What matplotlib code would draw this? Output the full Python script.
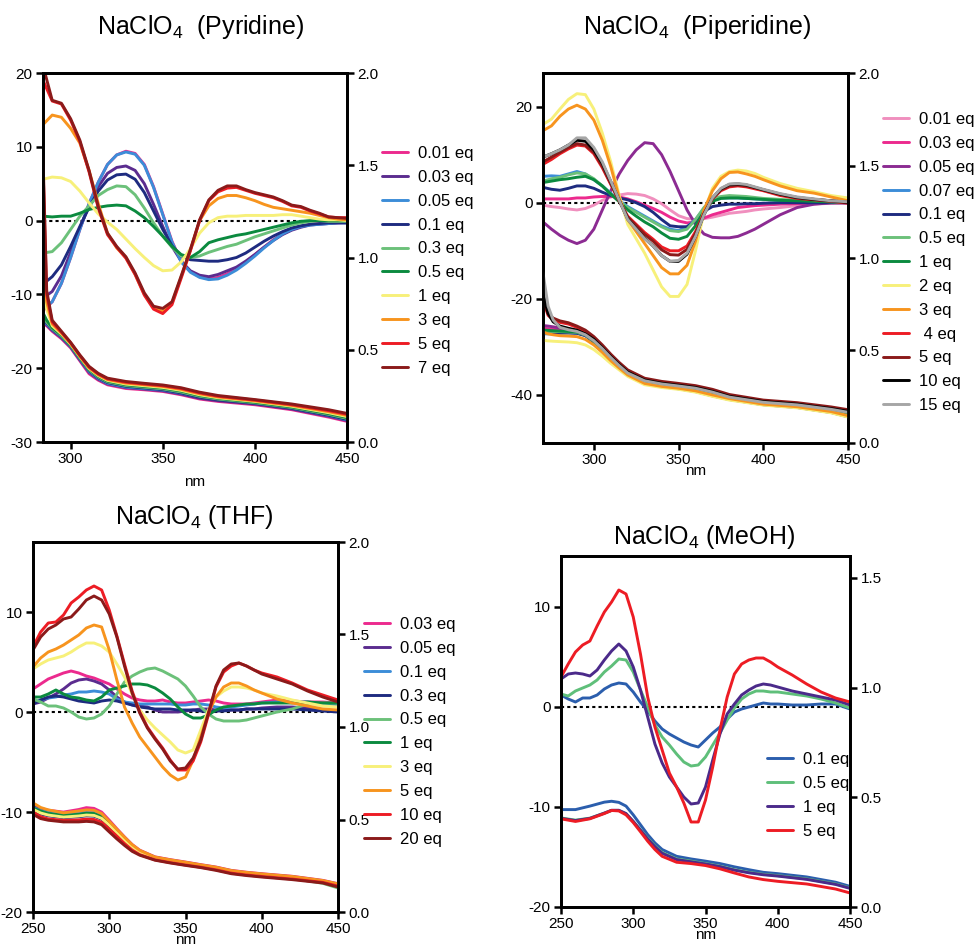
import matplotlib.pyplot as plt

plt.rcParams['font.family'] = ['Liberation Sans', 'DejaVu Sans']
plt.rcParams['mathtext.default'] = 'regular'
plt.rcParams['axes.unicode_minus'] = False

PINK = '#ec2a8e'
LPINK = '#f08fbe'
PURPLE = '#5b2c8f'
MAGENTA = '#8c2b92'
LBLUE = '#3c8dd8'
NAVY = '#1e2b80'
LGREEN = '#6cc17a'
GREEN = '#0b8a3f'
YELLOW = '#f7f07a'
ORANGE = '#f7941e'
RED = '#ed1c24'
DRED = '#8b1a1a'

# ---------------- NaClO4 in pyridine ----------------
pyr_labels = ['0.01 eq', '0.03 eq', '0.05 eq', '0.1 eq', '0.3 eq', '0.5 eq', '1 eq', '3 eq', '5 eq', '7 eq']
pyr_colors = [PINK, PURPLE, LBLUE, NAVY, LGREEN, GREEN, YELLOW, ORANGE, RED, DRED]
pyr_cd_wl = [285, 290, 295, 300, 305, 310, 315, 320, 325, 330, 335, 340, 345, 350, 355, 360, 365,
             370, 375, 380, 385, 390, 395, 400, 405, 410, 415, 420, 425, 430, 435, 440, 445, 450]
pyr_cd = [
    [-12.2, -11.0, -8.5, -5.0, -1.2, 2.3, 5.2, 7.6, 8.9, 9.4, 9.1, 7.6, 4.6, 0.9, -2.8, -5.5, -6.9,
     -7.6, -7.9, -7.7, -7.2, -6.5, -5.6, -4.6, -3.6, -2.6, -1.8, -1.2, -0.8, -0.5, -0.4, -0.3, -0.3, -0.2],
    [-10.5, -9.6, -7.5, -4.3, -1.0, 2.0, 4.6, 6.4, 7.2, 7.4, 6.8, 5.0, 2.2, -0.8, -3.5, -5.5, -6.8,
     -7.4, -7.6, -7.3, -6.8, -6.3, -5.5, -4.6, -3.6, -2.7, -1.9, -1.3, -0.9, -0.6, -0.5, -0.4, -0.3, -0.3],
    [-12.0, -11.0, -8.5, -5.0, -1.2, 2.3, 5.2, 7.6, 8.9, 9.3, 9.0, 7.5, 4.5, 0.8, -2.9, -5.6, -7.0,
     -7.7, -8.0, -7.9, -7.4, -6.7, -5.8, -4.8, -3.7, -2.7, -1.8, -1.2, -0.8, -0.6, -0.5, -0.4, -0.3, -0.3],
    [-8.6, -7.6, -6.0, -3.5, -0.8, 1.8, 4.0, 5.5, 6.2, 6.3, 5.6, 3.8, 1.3, -1.2, -3.4, -4.8, -5.3,
     -5.4, -5.5, -5.5, -5.3, -5.0, -4.4, -3.6, -2.8, -2.1, -1.5, -1.0, -0.7, -0.5, -0.4, -0.3, -0.3, -0.3],
    [-4.4, -4.2, -3.0, -1.2, 0.6, 2.0, 3.4, 4.2, 4.7, 4.6, 3.5, 1.7, -0.3, -2.1, -3.6, -4.8, -5.0,
     -4.8, -4.3, -3.9, -3.5, -3.2, -2.7, -2.2, -1.8, -1.4, -1.0, -0.6, -0.3, -0.1, 0.0, -0.1, -0.1, -0.1],
    [0.6, 0.5, 0.6, 0.6, 1.0, 1.5, 1.8, 2.0, 2.1, 2.0, 1.3, 0.4, -0.8, -2.1, -3.5, -4.6, -5.0,
     -4.2, -3.0, -2.6, -2.3, -2.0, -1.8, -1.5, -1.2, -0.9, -0.6, -0.3, -0.1, 0.0, 0.0, 0.0, 0.0, 0.0],
    [5.6, 5.9, 5.8, 5.3, 4.0, 2.4, 0.9, -0.2, -1.2, -2.5, -3.8, -5.0, -6.1, -6.8, -6.7, -5.6, -3.8,
     -1.7, -0.3, 0.4, 0.6, 0.6, 0.7, 0.7, 0.7, 0.7, 0.8, 0.8, 0.6, 0.4, 0.2, 0.1, 0.1, 0.0],
    [13.0, 14.3, 14.0, 12.5, 10.5, 6.8, 2.3, -1.7, -3.7, -5.0, -7.3, -10.0, -11.8, -12.3, -11.2, -7.6, -4.0,
     0.0, 2.0, 3.0, 3.4, 3.4, 3.1, 2.7, 2.2, 1.8, 1.6, 1.4, 1.2, 1.0, 0.7, 0.4, 0.2, 0.1],
    [19.0, 16.2, 15.8, 13.6, 10.7, 6.6, 1.7, -1.9, -3.6, -5.1, -7.3, -10.1, -12.0, -12.6, -11.4, -7.8, -4.1,
     0.0, 2.7, 3.9, 4.4, 4.5, 4.1, 3.7, 3.4, 3.1, 2.6, 2.0, 1.8, 1.3, 0.9, 0.5, 0.4, 0.4],
    [21.0, 16.3, 15.9, 13.8, 10.9, 6.8, 1.9, -1.7, -3.5, -4.9, -7.1, -9.8, -11.6, -11.9, -11.0, -7.5, -3.9,
     0.1, 2.8, 4.1, 4.7, 4.7, 4.2, 3.8, 3.5, 3.2, 2.7, 2.1, 1.9, 1.4, 1.0, 0.5, 0.4, 0.3],
]
pyr_abs_wl = [285, 287, 290, 295, 300, 305, 310, 315, 320, 330, 340, 350, 360, 370, 380, 400, 420, 440, 450]
pyr_abs = [
    [0.64, 0.63, 0.60, 0.56, 0.51, 0.44, 0.37, 0.335, 0.31, 0.29, 0.283, 0.274, 0.256, 0.233, 0.220, 0.202, 0.175, 0.135, 0.112],
    [0.65, 0.635, 0.605, 0.565, 0.515, 0.445, 0.378, 0.34, 0.315, 0.295, 0.287, 0.278, 0.26, 0.237, 0.224, 0.206, 0.179, 0.14, 0.117],
    [0.66, 0.64, 0.61, 0.57, 0.518, 0.45, 0.382, 0.345, 0.318, 0.298, 0.29, 0.282, 0.265, 0.245, 0.232, 0.212, 0.184, 0.144, 0.12],
    [0.67, 0.645, 0.612, 0.572, 0.52, 0.452, 0.386, 0.348, 0.322, 0.302, 0.293, 0.284, 0.266, 0.243, 0.229, 0.21, 0.183, 0.145, 0.123],
    [0.68, 0.65, 0.615, 0.575, 0.523, 0.455, 0.39, 0.352, 0.326, 0.306, 0.297, 0.288, 0.271, 0.248, 0.233, 0.213, 0.187, 0.15, 0.128],
    [0.70, 0.66, 0.62, 0.58, 0.526, 0.458, 0.394, 0.356, 0.33, 0.31, 0.301, 0.292, 0.276, 0.252, 0.237, 0.216, 0.19, 0.154, 0.133],
    [0.85, 0.72, 0.63, 0.585, 0.53, 0.462, 0.398, 0.36, 0.334, 0.314, 0.305, 0.296, 0.28, 0.256, 0.24, 0.22, 0.194, 0.159, 0.138],
    [1.00, 0.76, 0.64, 0.59, 0.534, 0.465, 0.402, 0.364, 0.338, 0.319, 0.31, 0.301, 0.285, 0.261, 0.244, 0.223, 0.198, 0.164, 0.144],
    [1.50, 0.80, 0.65, 0.595, 0.537, 0.468, 0.406, 0.368, 0.342, 0.324, 0.314, 0.305, 0.29, 0.266, 0.248, 0.227, 0.202, 0.17, 0.15],
    [1.55, 0.82, 0.66, 0.60, 0.54, 0.472, 0.41, 0.372, 0.346, 0.328, 0.318, 0.309, 0.294, 0.27, 0.252, 0.23, 0.206, 0.175, 0.155],
]

# ---------------- NaClO4 in piperidine ----------------
pip_labels = ['0.01 eq', '0.03 eq', '0.05 eq', '0.07 eq', '0.1 eq', '0.5 eq', '1 eq', '2 eq', '3 eq',
              ' 4 eq', '5 eq', '10 eq', '15 eq']
pip_colors = [LPINK, PINK, MAGENTA, LBLUE, NAVY, LGREEN, GREEN, YELLOW, ORANGE, RED, DRED, '#000000', '#a6a6a6']
pip_cd_wl = [270, 275, 280, 285, 290, 295, 300, 305, 310, 315, 320, 325, 330, 335, 340, 345, 350, 355,
             360, 365, 370, 375, 380, 385, 390, 395, 400, 410, 420, 430, 440, 450]
pip_cd = [
    [-0.5, -0.8, -1.0, -1.3, -1.5, -1.2, -0.5, 0.5, 1.2, 1.6, 1.9, 1.8, 1.5, 0.8, -0.2, -1.5, -2.7, -3.3,
     -3.5, -3.3, -3.0, -2.6, -2.2, -2.0, -1.8, -1.5, -1.3, -1.0, -0.6, -0.3, -0.1, 0.0],
    [0.8, 0.8, 0.8, 0.8, 1.0, 1.0, 1.2, 1.3, 1.3, 1.2, 0.8, 0.2, -0.5, -1.2, -2.0, -3.0, -3.8, -4.2,
     -4.0, -3.2, -2.5, -2.0, -1.5, -1.0, -0.8, -0.6, -0.5, -0.3, -0.2, -0.1, 0.0, 0.0],
    [-4.0, -5.5, -6.8, -7.8, -8.5, -7.8, -5.5, -1.5, 2.5, 6.0, 8.8, 11.0, 12.5, 12.3, 10.0, 6.5, 2.5, -1.5,
     -4.5, -6.5, -7.2, -7.3, -7.3, -7.0, -6.3, -5.5, -4.5, -2.5, -1.0, -0.3, 0.0, 0.0],
    [5.5, 5.6, 5.5, 6.0, 6.5, 6.0, 4.8, 3.5, 2.0, 0.5, -0.8, -1.8, -2.8, -3.8, -4.8, -5.5, -5.8, -5.0,
     -3.5, -1.2, 0.5, 1.0, 1.0, 1.0, 0.9, 0.8, 0.7, 0.5, 0.4, 0.3, 0.2, 0.1],
    [3.2, 2.8, 2.6, 3.0, 3.5, 3.5, 3.0, 2.2, 1.5, 1.0, 0.6, 0.0, -0.8, -2.0, -3.5, -4.8, -5.0, -5.0,
     -3.8, -1.8, -0.8, -0.5, -0.3, -0.3, -0.2, -0.2, -0.1, 0.0, 0.0, 0.0, 0.0, 0.0],
    [4.5, 5.0, 5.3, 5.8, 6.2, 6.0, 5.0, 3.5, 1.8, 0.3, -1.0, -2.0, -3.0, -4.0, -5.0, -5.8, -6.0, -5.5,
     -3.5, -1.0, 0.8, 1.3, 1.5, 1.4, 1.3, 1.1, 0.9, 0.7, 0.5, 0.4, 0.2, 0.1],
    [4.2, 4.5, 4.8, 5.0, 5.3, 5.5, 4.8, 3.5, 1.8, 0.2, -1.5, -2.8, -4.0, -5.0, -6.3, -7.4, -7.6, -7.0,
     -4.8, -1.8, 0.3, 0.9, 1.0, 1.0, 0.9, 0.8, 0.7, 0.5, 0.4, 0.3, 0.2, 0.1],
    [16.3, 17.4, 19.5, 21.5, 22.7, 22.5, 19.5, 14.5, 8.5, 1.5, -4.5, -7.5, -10.5, -14.0, -17.5, -19.5, -19.5, -17.0,
     -10.0, -2.0, 3.0, 5.5, 6.5, 6.8, 6.6, 6.1, 5.3, 4.0, 3.0, 2.3, 1.5, 1.0],
    [15.0, 16.0, 18.0, 19.5, 20.3, 19.5, 17.2, 13.0, 7.5, 1.0, -3.5, -6.0, -8.5, -11.0, -13.5, -14.8, -14.8, -13.0,
     -8.0, -1.5, 2.5, 5.0, 6.3, 6.4, 6.0, 5.5, 4.8, 3.5, 2.5, 2.0, 1.2, 0.4],
    [8.0, 9.0, 10.2, 11.2, 12.0, 11.8, 10.2, 7.3, 3.8, 0.3, -2.8, -4.5, -6.2, -7.6, -9.2, -10.0, -10.0, -9.0,
     -6.0, -2.2, 0.8, 2.5, 3.3, 3.5, 3.3, 2.9, 2.5, 1.5, 0.9, 0.6, 0.3, -0.1],
    [8.5, 9.5, 10.5, 11.5, 12.3, 12.0, 10.5, 7.6, 4.0, 0.4, -3.0, -4.8, -6.6, -8.0, -9.8, -10.8, -10.9, -9.7,
     -6.4, -2.3, 0.9, 2.7, 3.5, 3.7, 3.5, 3.1, 2.7, 1.7, 1.0, 0.7, 0.4, 0.0],
    [9.5, 10.2, 11.0, 12.0, 13.0, 12.8, 11.0, 8.2, 4.4, 0.5, -3.4, -5.4, -7.4, -9.0, -11.0, -12.2, -12.2, -10.7,
     -7.0, -2.5, 1.0, 2.9, 3.8, 3.9, 3.7, 3.2, 2.7, 1.8, 1.1, 0.7, 0.4, 0.1],
    [9.5, 10.2, 11.0, 12.0, 13.5, 13.5, 11.5, 8.5, 4.5, 0.5, -3.5, -5.5, -7.5, -9.0, -11.0, -12.2, -12.0, -10.5,
     -7.0, -2.5, 1.0, 3.0, 3.9, 4.0, 3.8, 3.3, 2.8, 1.9, 1.2, 0.8, 0.4, 0.2],
]
pip_abs_wl = [270, 273, 276, 280, 285, 290, 295, 300, 305, 310, 315, 320, 330, 340, 350, 360, 370, 380,
              400, 420, 440, 450]
pip_abs = [
    [0.615, 0.613, 0.61, 0.608, 0.605, 0.60, 0.585, 0.55, 0.505, 0.455, 0.415, 0.375, 0.328, 0.312, 0.302, 0.288, 0.265, 0.245, 0.215, 0.2, 0.174, 0.152],
    [0.62, 0.618, 0.615, 0.612, 0.608, 0.603, 0.588, 0.553, 0.507, 0.457, 0.417, 0.377, 0.33, 0.314, 0.304, 0.29, 0.267, 0.247, 0.217, 0.202, 0.176, 0.154],
    [0.635, 0.632, 0.628, 0.622, 0.615, 0.607, 0.59, 0.555, 0.508, 0.458, 0.418, 0.378, 0.331, 0.315, 0.305, 0.291, 0.268, 0.248, 0.218, 0.203, 0.177, 0.155],
    [0.59, 0.59, 0.59, 0.592, 0.595, 0.594, 0.582, 0.548, 0.503, 0.453, 0.413, 0.373, 0.326, 0.31, 0.3, 0.286, 0.263, 0.243, 0.213, 0.198, 0.172, 0.15],
    [0.60, 0.598, 0.597, 0.596, 0.595, 0.593, 0.58, 0.545, 0.498, 0.448, 0.408, 0.368, 0.32, 0.304, 0.293, 0.278, 0.255, 0.235, 0.207, 0.192, 0.165, 0.142],
    [0.605, 0.604, 0.603, 0.602, 0.60, 0.598, 0.584, 0.55, 0.505, 0.455, 0.415, 0.375, 0.328, 0.312, 0.302, 0.288, 0.265, 0.245, 0.215, 0.2, 0.174, 0.152],
    [0.61, 0.609, 0.607, 0.605, 0.603, 0.60, 0.586, 0.552, 0.506, 0.456, 0.416, 0.376, 0.329, 0.313, 0.303, 0.289, 0.266, 0.246, 0.216, 0.201, 0.175, 0.153],
    [0.555, 0.552, 0.55, 0.548, 0.546, 0.542, 0.53, 0.505, 0.47, 0.43, 0.395, 0.36, 0.315, 0.30, 0.29, 0.275, 0.252, 0.232, 0.205, 0.19, 0.163, 0.14],
    [0.60, 0.59, 0.585, 0.58, 0.578, 0.575, 0.56, 0.53, 0.49, 0.445, 0.405, 0.368, 0.322, 0.306, 0.296, 0.282, 0.26, 0.24, 0.21, 0.196, 0.17, 0.148],
    [0.77, 0.69, 0.665, 0.652, 0.643, 0.625, 0.603, 0.568, 0.523, 0.473, 0.428, 0.388, 0.343, 0.326, 0.315, 0.303, 0.283, 0.256, 0.227, 0.213, 0.19, 0.175],
    [0.775, 0.70, 0.675, 0.66, 0.65, 0.632, 0.61, 0.575, 0.53, 0.48, 0.435, 0.395, 0.35, 0.333, 0.322, 0.31, 0.29, 0.262, 0.232, 0.218, 0.195, 0.18],
    [0.81, 0.70, 0.655, 0.632, 0.62, 0.61, 0.59, 0.56, 0.515, 0.467, 0.423, 0.383, 0.34, 0.323, 0.312, 0.30, 0.279, 0.252, 0.224, 0.21, 0.186, 0.171],
    [0.92, 0.74, 0.665, 0.625, 0.612, 0.603, 0.585, 0.553, 0.51, 0.462, 0.418, 0.378, 0.336, 0.319, 0.308, 0.296, 0.275, 0.248, 0.22, 0.206, 0.182, 0.166],
]

# ---------------- NaClO4 in THF ----------------
thf_labels = ['0.03 eq', '0.05 eq', '0.1 eq', '0.3 eq', '0.5 eq', '1 eq', '3 eq', '5 eq', '10 eq', '20 eq']
thf_colors = [PINK, PURPLE, LBLUE, NAVY, LGREEN, GREEN, YELLOW, ORANGE, RED, DRED]
thf_cd_wl = [250, 255, 260, 265, 270, 275, 280, 285, 290, 295, 300, 305, 310, 315, 320, 325, 330, 335,
             340, 345, 350, 355, 360, 365, 370, 375, 380, 385, 390, 395, 400, 410, 420, 430, 440, 450]
thf_cd = [
    [2.3, 2.8, 3.3, 3.6, 3.9, 4.1, 3.9, 3.6, 3.4, 3.1, 2.8, 2.3, 1.8, 1.4, 1.2, 1.1, 1.1, 1.2,
     1.0, 0.9, 0.9, 1.0, 1.1, 1.2, 1.1, 0.9, 0.8, 0.8, 0.8, 0.9, 1.0, 1.2, 1.1, 1.0, 1.0, 0.9],
    [0.8, 1.0, 1.4, 1.8, 2.3, 2.9, 3.2, 3.3, 3.1, 2.8, 2.2, 1.5, 1.0, 0.7, 0.6, 0.5, 0.2, 0.0,
     0.0, 0.0, 0.1, 0.2, 0.3, 0.3, 0.2, 0.2, 0.2, 0.2, 0.3, 0.3, 0.4, 0.5, 0.5, 0.4, 0.2, 0.1],
    [1.0, 1.2, 1.4, 1.5, 1.7, 1.8, 2.0, 2.0, 2.1, 2.0, 1.8, 1.3, 1.0, 0.9, 0.8, 0.8, 0.8, 0.8,
     0.8, 0.7, 0.7, 0.8, 0.8, 0.7, 0.5, 0.4, 0.5, 0.6, 0.7, 0.8, 0.9, 1.0, 1.0, 1.0, 0.8, 0.6],
    [0.8, 1.2, 1.5, 1.6, 1.5, 1.3, 1.1, 1.0, 0.9, 1.1, 1.2, 1.1, 0.9, 0.7, 0.5, 0.4, 0.3, 0.3,
     0.3, 0.2, 0.2, 0.2, 0.1, 0.0, 0.1, 0.1, 0.2, 0.2, 0.3, 0.3, 0.3, 0.3, 0.3, 0.2, 0.1, 0.0],
    [1.3, 1.0, 0.6, 0.6, 0.4, 0.0, -0.5, -0.7, -0.6, -0.2, 0.6, 1.8, 3.0, 3.6, 4.0, 4.3, 4.4, 4.1,
     3.7, 3.3, 2.6, 1.6, 0.5, -0.2, -0.7, -0.9, -0.9, -0.9, -0.8, -0.6, -0.4, 0.0, 0.3, 0.8, 0.9, 0.9],
    [1.5, 1.5, 1.8, 2.2, 1.8, 1.5, 1.4, 1.2, 1.1, 1.5, 2.2, 2.4, 2.6, 2.8, 2.8, 2.7, 2.4, 1.9,
     1.3, 0.5, -0.2, -0.6, -0.6, -0.3, 0.2, 0.5, 0.6, 0.7, 0.8, 0.8, 0.9, 0.9, 0.9, 1.0, 0.9, 0.9],
    [4.3, 4.8, 5.2, 5.4, 5.6, 6.0, 6.5, 6.9, 6.9, 6.6, 6.0, 4.8, 3.5, 1.8, 0.2, -0.8, -1.6, -2.3,
     -3.0, -3.8, -4.1, -3.8, -1.8, 0.2, 1.5, 2.1, 2.5, 2.5, 2.4, 2.2, 1.9, 1.6, 1.2, 0.9, 0.6, 0.5],
    [4.5, 5.4, 6.0, 6.3, 6.7, 7.2, 7.7, 8.4, 8.7, 8.5, 6.2, 3.2, 0.5, -1.1, -2.5, -3.5, -4.5, -5.5,
     -6.3, -6.8, -6.5, -4.8, -2.5, -0.1, 1.5, 2.5, 2.9, 2.9, 2.6, 2.2, 1.9, 1.3, 0.9, 0.6, 0.3, 0.2],
    [6.5, 8.0, 8.9, 9.0, 9.7, 10.9, 11.5, 12.2, 12.6, 12.2, 10.2, 7.6, 4.8, 2.1, 0.0, -1.5, -2.6, -3.6,
     -4.8, -5.8, -5.8, -4.9, -3.0, -0.3, 2.5, 4.0, 4.6, 4.9, 4.6, 4.2, 3.9, 3.5, 2.9, 2.2, 1.7, 1.2],
    [6.2, 7.5, 8.3, 8.7, 9.3, 9.5, 10.3, 11.2, 11.6, 11.2, 9.8, 7.5, 4.6, 1.9, -0.1, -1.6, -2.7, -3.7,
     -4.9, -5.7, -5.6, -4.6, -2.8, -0.1, 2.6, 4.2, 4.8, 4.9, 4.6, 4.2, 3.8, 3.3, 2.8, 2.1, 1.5, 1.0],
]
thf_abs_wl = [250, 255, 260, 270, 280, 285, 290, 295, 300, 305, 310, 315, 320, 330, 340, 350, 360, 370,
              380, 390, 400, 420, 440, 450]
thf_abs = [
    [0.577, 0.56, 0.55, 0.54, 0.554, 0.564, 0.56, 0.54, 0.496, 0.45, 0.406, 0.365, 0.334, 0.298, 0.283, 0.27, 0.256, 0.243, 0.225, 0.215, 0.207, 0.193, 0.171, 0.153],
    [0.57, 0.552, 0.542, 0.532, 0.54, 0.548, 0.546, 0.528, 0.488, 0.443, 0.40, 0.36, 0.33, 0.295, 0.28, 0.267, 0.253, 0.24, 0.222, 0.212, 0.204, 0.19, 0.168, 0.15],
    [0.565, 0.548, 0.538, 0.528, 0.534, 0.54, 0.538, 0.522, 0.483, 0.44, 0.397, 0.357, 0.328, 0.293, 0.278, 0.265, 0.251, 0.238, 0.22, 0.21, 0.202, 0.188, 0.166, 0.148],
    [0.55, 0.53, 0.52, 0.51, 0.515, 0.52, 0.518, 0.502, 0.466, 0.425, 0.385, 0.348, 0.32, 0.288, 0.273, 0.26, 0.247, 0.234, 0.216, 0.206, 0.198, 0.184, 0.162, 0.144],
    [0.56, 0.54, 0.528, 0.518, 0.525, 0.53, 0.528, 0.512, 0.475, 0.432, 0.39, 0.352, 0.324, 0.289, 0.274, 0.261, 0.248, 0.235, 0.216, 0.205, 0.197, 0.182, 0.155, 0.13],
    [0.562, 0.545, 0.533, 0.522, 0.528, 0.534, 0.532, 0.516, 0.478, 0.435, 0.393, 0.355, 0.326, 0.291, 0.276, 0.263, 0.249, 0.236, 0.218, 0.208, 0.2, 0.186, 0.164, 0.145],
    [0.555, 0.535, 0.524, 0.513, 0.519, 0.524, 0.522, 0.506, 0.47, 0.428, 0.388, 0.35, 0.322, 0.29, 0.275, 0.262, 0.249, 0.236, 0.218, 0.208, 0.2, 0.186, 0.164, 0.147],
    [0.59, 0.565, 0.552, 0.536, 0.546, 0.552, 0.55, 0.532, 0.49, 0.447, 0.404, 0.364, 0.333, 0.297, 0.282, 0.269, 0.255, 0.242, 0.224, 0.214, 0.206, 0.192, 0.17, 0.152],
    [0.54, 0.515, 0.503, 0.495, 0.498, 0.502, 0.50, 0.485, 0.448, 0.41, 0.37, 0.335, 0.31, 0.282, 0.267, 0.254, 0.242, 0.228, 0.21, 0.2, 0.192, 0.178, 0.16, 0.14],
    [0.528, 0.505, 0.496, 0.487, 0.487, 0.49, 0.487, 0.472, 0.433, 0.395, 0.36, 0.328, 0.307, 0.28, 0.265, 0.252, 0.24, 0.225, 0.207, 0.197, 0.189, 0.175, 0.157, 0.135],
]

# ---------------- NaClO4 in MeOH ----------------
meoh_labels = ['0.1 eq', '0.5 eq', '1 eq', '5 eq']
meoh_colors = ['#2b5ead', '#5fbf7a', '#4b2a8a', RED]
meoh_cd_wl = thf_cd_wl
meoh_cd = [
    [1.2, 0.8, 0.5, 0.9, 0.9, 1.2, 1.8, 2.2, 2.4, 2.3, 1.5, 0.5, -0.4, -1.4, -2.2, -2.7, -3.1, -3.5,
     -3.8, -4.0, -3.3, -2.6, -2.0, -1.2, -0.5, -0.2, 0.0, 0.2, 0.4, 0.3, 0.3, 0.2, 0.2, 0.3, 0.3, -0.2],
    [1.3, 1.1, 1.6, 1.9, 2.2, 2.7, 3.5, 4.1, 4.8, 4.7, 3.5, 1.7, 0.0, -1.8, -3.0, -3.8, -4.7, -5.5,
     -5.9, -5.8, -5.0, -3.8, -2.6, -1.3, -0.1, 0.8, 1.3, 1.6, 1.6, 1.5, 1.5, 1.3, 1.1, 0.8, 0.4, -0.1],
    [2.8, 3.3, 3.4, 3.3, 3.1, 3.7, 4.7, 5.6, 6.3, 5.6, 4.0, 1.7, -1.0, -3.7, -5.6, -7.0, -8.0, -9.0,
     -9.7, -9.6, -8.0, -5.3, -2.7, -0.7, 0.3, 1.2, 1.7, 2.1, 2.3, 2.2, 2.0, 1.6, 1.3, 1.0, 0.7, 0.2],
    [3.0, 4.3, 5.5, 6.2, 6.6, 8.1, 9.5, 10.5, 11.7, 11.3, 9.0, 5.3, 1.0, -2.0, -4.3, -6.6, -8.0, -9.6,
     -11.5, -11.5, -9.3, -6.0, -2.3, 1.0, 3.3, 4.3, 4.7, 4.9, 4.9, 4.5, 4.0, 3.2, 2.3, 1.5, 0.9, 0.5],
]
meoh_abs_wl = [250, 260, 270, 280, 285, 290, 295, 300, 305, 310, 315, 320, 330, 340, 350, 360, 370,
               380, 390, 400, 420, 440, 450]
meoh_abs = [
    [0.444, 0.444, 0.46, 0.478, 0.482, 0.477, 0.46, 0.42, 0.375, 0.33, 0.292, 0.262, 0.231, 0.219, 0.209, 0.198, 0.183, 0.17, 0.158, 0.152, 0.137, 0.113, 0.094],
    [0.406, 0.396, 0.405, 0.428, 0.44, 0.44, 0.425, 0.39, 0.352, 0.313, 0.278, 0.248, 0.219, 0.209, 0.198, 0.186, 0.17, 0.158, 0.149, 0.143, 0.128, 0.105, 0.087],
    [0.404, 0.394, 0.404, 0.428, 0.441, 0.441, 0.426, 0.39, 0.35, 0.31, 0.275, 0.245, 0.216, 0.206, 0.196, 0.184, 0.168, 0.156, 0.147, 0.141, 0.126, 0.103, 0.085],
    [0.402, 0.39, 0.402, 0.426, 0.44, 0.438, 0.42, 0.385, 0.343, 0.30, 0.262, 0.231, 0.204, 0.198, 0.189, 0.174, 0.155, 0.137, 0.125, 0.117, 0.105, 0.082, 0.064],
]

W, H = 975, 947
fig = plt.figure(figsize=(W / 100, H / 100), dpi=100)


def px_rect(left, top, right, bottom):
    return [left / W, 1 - bottom / H, (right - left) / W, (bottom - top) / H]


def draw_panel(rect, title, title_xy, cd_wl, cd, abs_wl, absb, labels, colors,
               xlim, xticks, ylim, yticks, abs_lim, abs_ticks, legend_xy, nm_pad):
    ax = fig.add_axes(rect)
    ax2 = ax.twinx()
    handles = []
    for ys, c in zip(cd, colors):
        h, = ax.plot(cd_wl, ys, color=c, lw=2.1, solid_capstyle='round', solid_joinstyle='round')
        handles.append(h)
    for ys, c in zip(absb, colors):
        ax2.plot(abs_wl, ys, color=c, lw=2.1, solid_capstyle='round', solid_joinstyle='round')
    ax.axhline(0, color='black', lw=1.5, ls=(0, (1.5, 1.5)), zorder=0.5)

    ax.set_xlim(*xlim)
    ax.set_ylim(*ylim)
    ax.set_xticks(xticks)
    ax.set_yticks(yticks)
    ax2.set_ylim(*abs_lim)
    ax2.set_yticks(abs_ticks)
    ax2.set_yticklabels([f'{t:.1f}' for t in abs_ticks])
    for a in (ax, ax2):
        for sp in a.spines.values():
            sp.set_linewidth(2.0)
        a.tick_params(direction='out', length=5, width=1.8, labelsize=11, pad=2.5)
    ax.set_xlabel('nm', fontsize=11, labelpad=nm_pad)

    fig.text(title_xy[0] / W, 1 - title_xy[1] / H, title, fontsize=18, ha='center', va='center')
    fig.legend(handles, labels, loc='upper left',
               bbox_to_anchor=(legend_xy[0] / W, 1 - legend_xy[1] / H),
               frameon=False, fontsize=12, handlelength=1.55, handletextpad=0.6,
               labelspacing=0.53, borderaxespad=0, borderpad=0)
    return ax


draw_panel(px_rect(43, 73, 347, 442), 'NaClO$_4$  (Pyridine)', (201, 27),
           pyr_cd_wl, pyr_cd, pyr_abs_wl, pyr_abs, pyr_labels, pyr_colors,
           (285, 450), [300, 350, 400, 450], (-30, 20), [-30, -20, -10, 0, 10, 20],
           (0, 2), [0, 0.5, 1.0, 1.5, 2.0], (382, 146), 6)

draw_panel(px_rect(543, 73, 848, 443), 'NaClO$_4$  (Piperidine)', (697, 27),
           pip_cd_wl, pip_cd, pip_abs_wl, pip_abs, pip_labels, pip_colors,
           (270, 450), [300, 350, 400, 450], (-50, 27), [-40, -20, 0, 20],
           (0, 2), [0, 0.5, 1.0, 1.5, 2.0], (883, 112), -2.5)

draw_panel(px_rect(33, 542, 338, 912), 'NaClO$_4$ (THF)', (194, 517),
           thf_cd_wl, thf_cd, thf_abs_wl, thf_abs, thf_labels, thf_colors,
           (250, 450), [250, 300, 350, 400, 450], (-20, 17), [-20, -10, 0, 10],
           (0, 2), [0, 0.5, 1.0, 1.5, 2.0], (364, 617), -2.5)

draw_panel(px_rect(561, 556, 850, 907), 'NaClO$_4$ (MeOH)', (704, 537),
           meoh_cd_wl, meoh_cd, meoh_abs_wl, meoh_abs, meoh_labels, meoh_colors,
           (250, 450), [250, 300, 350, 400, 450], (-20, 15.1), [-20, -10, 0, 10],
           (0, 1.6), [0, 0.5, 1.0, 1.5], (767, 752), -2.5)

fig.savefig('out.png', dpi=100)
